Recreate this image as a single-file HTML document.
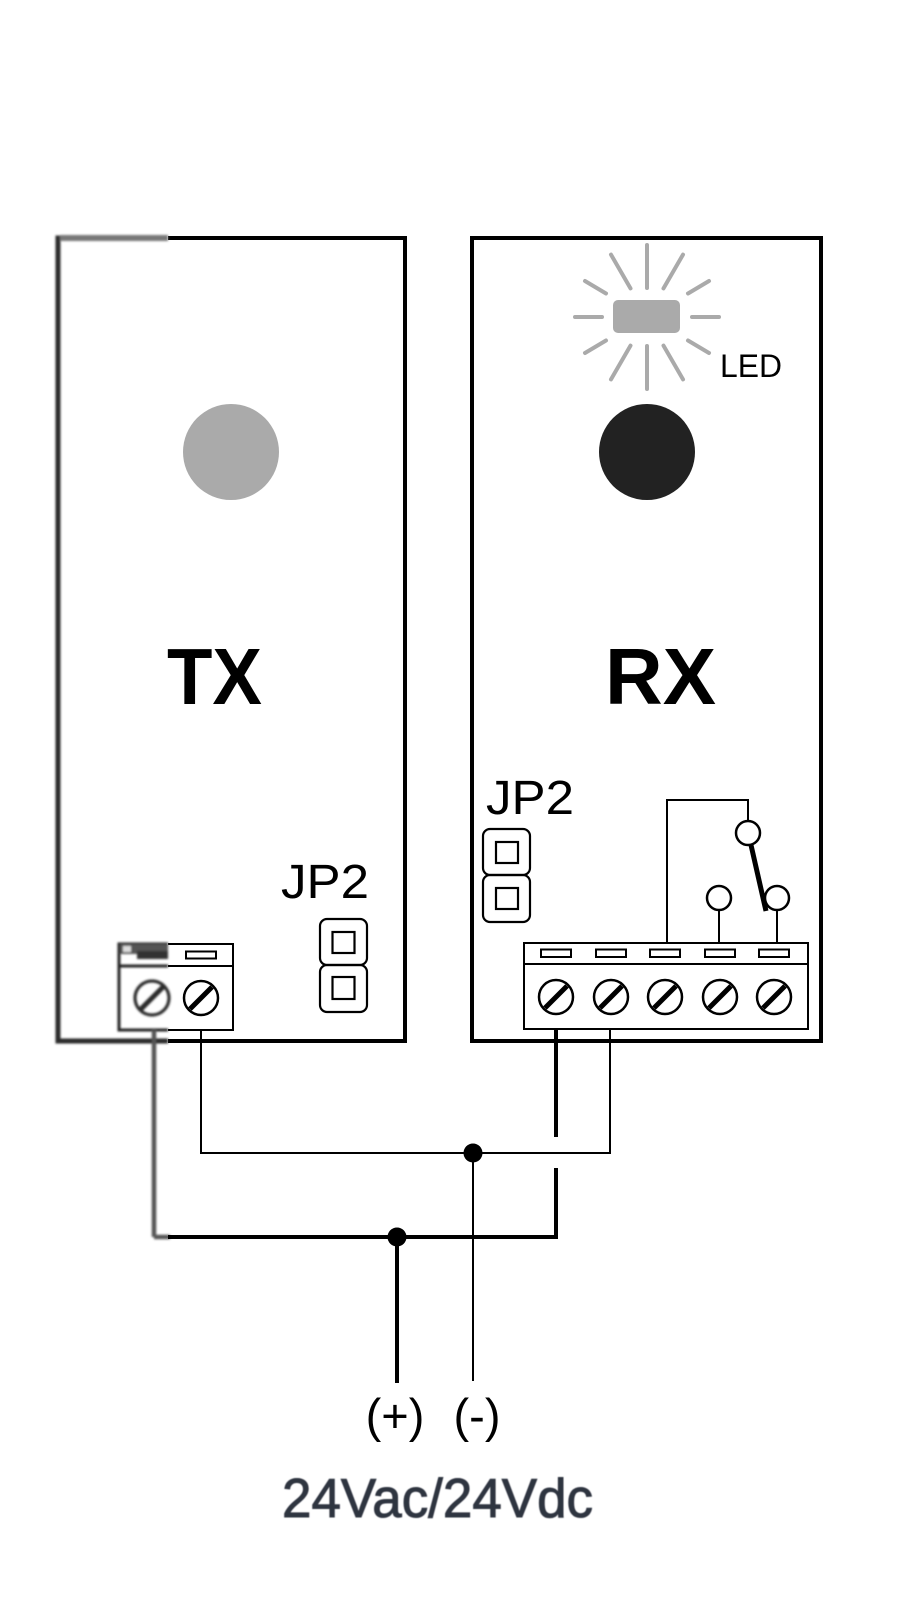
<!DOCTYPE html>
<html><head><meta charset="utf-8"><style>
html,body{margin:0;padding:0;background:#fff;}
svg{display:block;}
</style></head><body>
<svg width="900" height="1600" viewBox="0 0 900 1600" xmlns="http://www.w3.org/2000/svg">
<defs>
<filter id="bl" x="-20%" y="-20%" width="140%" height="140%"><feGaussianBlur stdDeviation="1.0"/></filter>
<filter id="bl2" x="-5%" y="-20%" width="110%" height="140%"><feGaussianBlur stdDeviation="0.6"/></filter>
</defs>
<rect width="900" height="1600" fill="#fff"/>

<!-- TX box -->
<path d="M168 238 H405 V1041 H168" fill="none" stroke="#000" stroke-width="4"/>
<g filter="url(#bl)">
<path d="M168 238 H58 V1041 H168" fill="none" stroke="#2a2a2a" stroke-width="5"/>
<line x1="60" y1="238" x2="168" y2="238" stroke="#777" stroke-width="6"/>
</g>
<circle cx="231" cy="452" r="48" fill="#aaaaaa"/>
<text x="167" y="704" font-family="Liberation Sans, Arial, sans-serif" font-weight="bold" font-size="80" textLength="95" lengthAdjust="spacingAndGlyphs">TX</text>

<!-- TX JP2 -->
<text x="281" y="898" font-family="Liberation Sans, Arial, sans-serif" font-size="48" textLength="88" lengthAdjust="spacingAndGlyphs">JP2</text>
<rect x="320" y="919" width="47" height="46" rx="7" fill="none" stroke="#000" stroke-width="2.2"/>
<rect x="320" y="965" width="47" height="47" rx="7" fill="none" stroke="#000" stroke-width="2.2"/>
<rect x="332.5" y="932" width="22" height="21" fill="none" stroke="#000" stroke-width="2.2"/>
<rect x="332.5" y="977" width="22" height="22" fill="none" stroke="#000" stroke-width="2.2"/>

<!-- TX terminal block (right part sharp) -->
<path d="M168 944 H233 V1030 H168 M168 966 H233" fill="none" stroke="#000" stroke-width="2"/>
<rect x="186" y="951.5" width="30" height="7" fill="none" stroke="#000" stroke-width="2"/>
<circle cx="201" cy="998" r="17" fill="none" stroke="#000" stroke-width="2.5"/>
<line x1="190" y1="1009" x2="212" y2="987" stroke="#000" stroke-width="5"/>
<!-- TX terminal block left blurred part -->
<g filter="url(#bl)">
<path d="M168 944 H119 V1030 H168 M119 966 H168" fill="none" stroke="#222" stroke-width="3"/>
<rect x="120" y="944" width="48" height="10" fill="#555"/>
<rect x="123" y="946" width="8" height="6" fill="#ddd"/>
<rect x="137" y="951" width="31" height="8" fill="#333"/>
<circle cx="152" cy="998" r="17" fill="none" stroke="#2a2a2a" stroke-width="3.2"/>
<line x1="141" y1="1009" x2="163" y2="987" stroke="#2a2a2a" stroke-width="5"/>
<line x1="154" y1="1030" x2="154" y2="1237" stroke="#555" stroke-width="4.5"/>
<line x1="154" y1="1237" x2="170" y2="1237" stroke="#555" stroke-width="4.5"/>
</g>

<!-- RX box -->
<rect x="472" y="238" width="349" height="803" fill="none" stroke="#000" stroke-width="4"/>
<!-- LED -->
<g stroke="#aaaaaa" stroke-width="4" stroke-linecap="round">
<line x1="602" y1="317" x2="575" y2="317"/>
<line x1="692" y1="317" x2="719" y2="317"/>
<line x1="647" y1="288" x2="647" y2="245"/>
<line x1="647" y1="346" x2="647" y2="389"/>
<line x1="606" y1="293.5" x2="585" y2="281"/>
<line x1="688" y1="293.5" x2="709" y2="281"/>
<line x1="606" y1="340.5" x2="585" y2="353"/>
<line x1="688" y1="340.5" x2="709" y2="353"/>
<line x1="630.5" y1="288.4" x2="611" y2="254.6"/>
<line x1="663.5" y1="288.4" x2="683" y2="254.6"/>
<line x1="630.5" y1="345.6" x2="611" y2="379.4"/>
<line x1="663.5" y1="345.6" x2="683" y2="379.4"/>
</g>
<rect x="613" y="300" width="67" height="33" rx="5" fill="#aaaaaa"/>
<text x="720" y="377" font-family="Liberation Sans, Arial, sans-serif" font-size="32" textLength="62" lengthAdjust="spacingAndGlyphs">LED</text>
<circle cx="647" cy="452" r="48" fill="#222"/>
<text x="605" y="704" font-family="Liberation Sans, Arial, sans-serif" font-weight="bold" font-size="80" textLength="111" lengthAdjust="spacingAndGlyphs">RX</text>

<!-- RX JP2 -->
<text x="486" y="814" font-family="Liberation Sans, Arial, sans-serif" font-size="48" textLength="88" lengthAdjust="spacingAndGlyphs">JP2</text>
<rect x="483" y="829" width="47" height="46" rx="7" fill="none" stroke="#000" stroke-width="2.2"/>
<rect x="483" y="875" width="47" height="47" rx="7" fill="none" stroke="#000" stroke-width="2.2"/>
<rect x="496" y="842" width="22" height="21" fill="none" stroke="#000" stroke-width="2.2"/>
<rect x="496" y="888" width="22" height="21" fill="none" stroke="#000" stroke-width="2.2"/>

<!-- Relay -->
<path d="M667 943 V800 H748 V821" fill="none" stroke="#000" stroke-width="2"/>
<line x1="719" y1="910" x2="719" y2="943" stroke="#000" stroke-width="2"/>
<line x1="777" y1="910" x2="777" y2="943" stroke="#000" stroke-width="2"/>
<line x1="751" y1="845" x2="766" y2="911" stroke="#000" stroke-width="5"/>
<circle cx="748" cy="833" r="12" fill="#fff" stroke="#000" stroke-width="2.5"/>
<circle cx="719" cy="898" r="12" fill="#fff" stroke="#000" stroke-width="2.5"/>
<circle cx="777" cy="898" r="12" fill="#fff" stroke="#000" stroke-width="2.5"/>

<!-- RX terminal block -->
<rect x="524" y="943" width="284" height="86" fill="#fff" stroke="#000" stroke-width="2"/>
<line x1="524" y1="964" x2="808" y2="964" stroke="#000" stroke-width="2"/>
<g fill="none" stroke="#000" stroke-width="2">
<rect x="541" y="949.5" width="30" height="7.5"/>
<rect x="596" y="949.5" width="30" height="7.5"/>
<rect x="650" y="949.5" width="30" height="7.5"/>
<rect x="705" y="949.5" width="30" height="7.5"/>
<rect x="759" y="949.5" width="30" height="7.5"/>
</g>
<g fill="none" stroke="#000">
<circle cx="556" cy="997" r="17" stroke-width="2.5"/>
<line x1="545" y1="1008" x2="567" y2="986" stroke-width="5"/>
<circle cx="611" cy="997" r="17" stroke-width="2.5"/>
<line x1="600" y1="1008" x2="622" y2="986" stroke-width="5"/>
<circle cx="665" cy="997" r="17" stroke-width="2.5"/>
<line x1="654" y1="1008" x2="676" y2="986" stroke-width="5"/>
<circle cx="720" cy="997" r="17" stroke-width="2.5"/>
<line x1="709" y1="1008" x2="731" y2="986" stroke-width="5"/>
<circle cx="774" cy="997" r="17" stroke-width="2.5"/>
<line x1="763" y1="1008" x2="785" y2="986" stroke-width="5"/>
</g>

<!-- Wiring -->
<path d="M201 1030 V1153 H610 V1029" fill="none" stroke="#000" stroke-width="2"/>
<line x1="473" y1="1153" x2="473" y2="1381" stroke="#000" stroke-width="2"/>
<circle cx="473" cy="1153" r="9.5" fill="#000"/>
<line x1="556" y1="1029" x2="556" y2="1137" stroke="#000" stroke-width="4"/>
<path d="M556 1168 V1237 H168" fill="none" stroke="#000" stroke-width="4"/>
<line x1="397" y1="1237" x2="397" y2="1383" stroke="#000" stroke-width="4"/>
<circle cx="397" cy="1237" r="9.5" fill="#000"/>

<!-- Labels -->
<text x="395" y="1432" text-anchor="middle" font-family="Liberation Sans, Arial, sans-serif" font-size="47">(+)</text>
<text x="477" y="1432" text-anchor="middle" font-family="Liberation Sans, Arial, sans-serif" font-size="47">(-)</text>
<g filter="url(#bl2)">
<text x="282" y="1517" font-family="Liberation Sans, Arial, sans-serif" font-size="55" fill="#2f3440" stroke="#2f3440" stroke-width="1" textLength="311" lengthAdjust="spacingAndGlyphs">24Vac/24Vdc</text>
</g>
</svg>
</body></html>
